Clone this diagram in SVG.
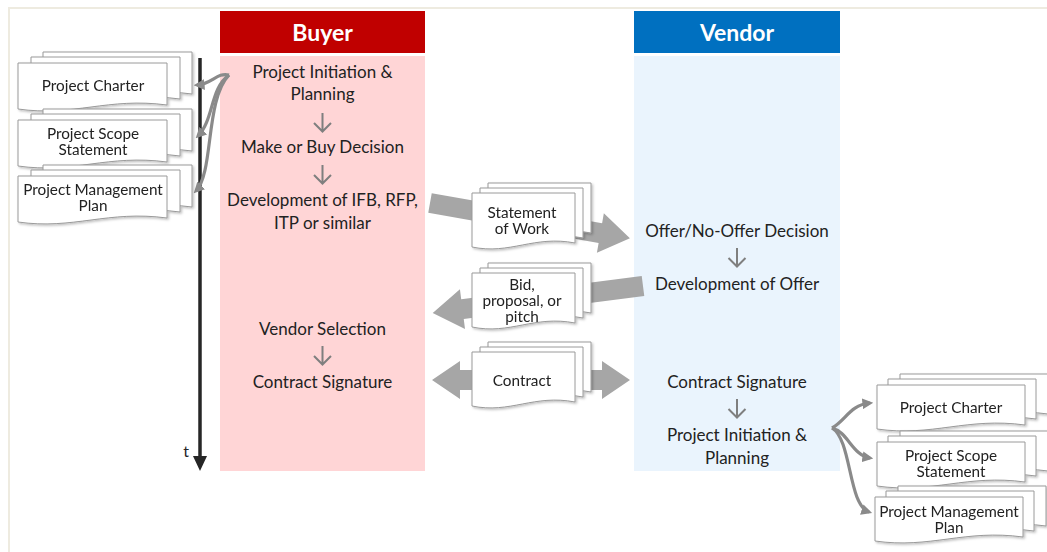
<svg xmlns="http://www.w3.org/2000/svg" width="1047" height="552" viewBox="0 0 1047 552">
<style>
.t{font-family:Lato,"Liberation Sans",sans-serif;font-size:17px;fill:#222;text-anchor:middle}
.d{font-family:Lato,"Liberation Sans",sans-serif;font-size:15.3px;fill:#222;text-anchor:middle}
.h{font-family:Lato,"Liberation Sans",sans-serif;font-size:23px;font-weight:bold;fill:#fff;text-anchor:middle}
.pg{fill:#fff;stroke:#9a9a9a;stroke-width:1}
.sa{fill:none;stroke:#7f7f7f;stroke-width:2}
.ca{fill:none;stroke:#8a8a8a;stroke-width:3.2}
.ba{fill:#a6a6a6}
</style>
<defs>
<marker id="ah" viewBox="0 0 10 10" refX="7" refY="5" markerWidth="3.4" markerHeight="3.4" orient="auto" markerUnits="strokeWidth">
<path d="M0,0 L10,5 L0,10 z" fill="#8a8a8a"/>
</marker>
<filter id="sh" x="-10%" y="-10%" width="130%" height="140%">
<feDropShadow dx="1.5" dy="1.5" stdDeviation="1.2" flood-color="#000" flood-opacity="0.25"/>
</filter>
<path id="pL" d="M0,0 H149 V42 C90,34 55,54 0,46 Z"/>
<path id="pM" d="M0,0 H103 V50 C62,42 38,62 0,54 Z"/>
<path id="pR" d="M0,0 H148 V40 C90,32 55,52 0,44 Z"/>
</defs>
<rect x="9" y="8" width="1050" height="560" fill="#fff" stroke="#eeebe0" stroke-width="2"/>

<g id="buyer-lane">
<rect x="220" y="11" width="205" height="42" fill="#c00000"/>
<text class="h" x="322.5" y="41">Buyer</text>
<rect x="220" y="56" width="205" height="415" fill="#ffd5d6"/>
</g>
<g id="vendor-lane">
<rect x="634" y="11" width="206" height="42" fill="#0070c0"/>
<text class="h" x="737" y="41">Vendor</text>
<rect x="634" y="56" width="206" height="415" fill="#eaf4fd"/>
</g>

<g id="timeline">
<line x1="200" y1="58" x2="200" y2="458" stroke="#262626" stroke-width="3.5"/>
<path d="M193,456 L207,456 L200,471 Z" fill="#262626"/>
<text x="186" y="457" style="font-family:Lato,'Liberation Sans',sans-serif;font-size:16px;fill:#262626;text-anchor:middle">t</text>
</g>

<g id="buyer-steps">
<text class="t" x="322.5" y="78">Project Initiation &amp;</text>
<text class="t" x="322.5" y="100">Planning</text>
<text class="t" x="322.5" y="153">Make or Buy Decision</text>
<text class="t" x="322.5" y="206">Development of IFB, RFP,</text>
<text class="t" x="322.5" y="229">ITP or similar</text>
<text class="t" x="322.5" y="335">Vendor Selection</text>
<text class="t" x="322.5" y="388">Contract Signature</text>
</g>
<g id="vendor-steps">
<text class="t" x="737" y="237">Offer/No-Offer Decision</text>
<text class="t" x="737" y="290">Development of Offer</text>
<text class="t" x="737" y="388">Contract Signature</text>
<text class="t" x="737" y="441">Project Initiation &amp;</text>
<text class="t" x="737" y="464">Planning</text>
</g>

<g id="connectors">
<path class="sa" d="M322.5,113 V131 M314,123 L322.5,131.5 L331,123"/>
<path class="sa" d="M322.5,165 V183 M314,175 L322.5,183.5 L331,175"/>
<path class="sa" d="M322.5,346 V364 M314,356 L322.5,364.5 L331,356"/>
<path class="sa" d="M737,248 V266 M728.5,258 L737,266.5 L745.5,258"/>
<path class="sa" d="M737,399 V417 M728.5,409 L737,417.5 L745.5,409"/>
<path class="ca" d="M229,75 C217,72 212,84 197,85" marker-end="url(#ah)"/>
<path class="ca" d="M229,75 C210,88 214,120 198,136" marker-end="url(#ah)"/>
<path class="ca" d="M229,75 C205,100 214,172 196,191" marker-end="url(#ah)"/>
<path class="ca" d="M832,428 C846,420 850,405 870,403" marker-end="url(#ah)"/>
<path class="ca" d="M832,428 C848,432 852,455 870,458" marker-end="url(#ah)"/>
<path class="ca" d="M832,428 C852,440 848,505 869,512" marker-end="url(#ah)"/>
<polygon class="ba" points="0,-10 173,-10 173,-20 203,0 173,20 173,10 0,10" transform="translate(430,203) rotate(10)"/>
<polygon class="ba" points="0,-10 182,-10 182,-20 212,0 182,20 182,10 0,10" transform="translate(643,286) rotate(172.7)"/>
<polygon class="ba" points="432,380 460,361 460,370 602,370 602,361 630,380 602,399 602,390 460,390 460,399"/>
</g>

<g id="doc-buyer-charter" filter="url(#sh)">
<use href="#pL" class="pg" x="43" y="52"/><use href="#pL" class="pg" x="31" y="57"/><use href="#pL" class="pg" x="18" y="63"/>
<text class="d" x="93" y="91">Project Charter</text>
</g>
<g id="doc-buyer-scope" filter="url(#sh)">
<use href="#pL" class="pg" x="43" y="109"/><use href="#pL" class="pg" x="31" y="114"/><use href="#pL" class="pg" x="18" y="120"/>
<text class="d" x="93" y="139">Project Scope</text>
<text class="d" x="93" y="155">Statement</text>
</g>
<g id="doc-buyer-pmp" filter="url(#sh)">
<use href="#pL" class="pg" x="43" y="165"/><use href="#pL" class="pg" x="31" y="170"/><use href="#pL" class="pg" x="18" y="176"/>
<text class="d" x="93" y="195">Project Management</text>
<text class="d" x="93" y="211">Plan</text>
</g>

<g id="doc-sow" filter="url(#sh)">
<use href="#pM" class="pg" x="488" y="183"/><use href="#pM" class="pg" x="480" y="188"/><use href="#pM" class="pg" x="472" y="193"/>
<text class="d" x="522" y="218">Statement</text>
<text class="d" x="522" y="234">of Work</text>
</g>
<g id="doc-bid" filter="url(#sh)">
<use href="#pM" class="pg" x="488" y="263"/><use href="#pM" class="pg" x="480" y="268"/><use href="#pM" class="pg" x="472" y="273"/>
<text class="d" x="522" y="290">Bid,</text>
<text class="d" x="522" y="306">proposal, or</text>
<text class="d" x="522" y="322">pitch</text>
</g>
<g id="doc-contract" filter="url(#sh)">
<use href="#pM" class="pg" x="488" y="342"/><use href="#pM" class="pg" x="480" y="347"/><use href="#pM" class="pg" x="472" y="352"/>
<text class="d" x="522" y="386">Contract</text>
</g>

<g id="doc-vendor-charter" filter="url(#sh)">
<use href="#pR" class="pg" x="900" y="374"/><use href="#pR" class="pg" x="888" y="379"/><use href="#pR" class="pg" x="877" y="385"/>
<text class="d" x="951" y="413">Project Charter</text>
</g>
<g id="doc-vendor-scope" filter="url(#sh)">
<use href="#pR" class="pg" x="900" y="431"/><use href="#pR" class="pg" x="888" y="436"/><use href="#pR" class="pg" x="877" y="442"/>
<text class="d" x="951" y="461">Project Scope</text>
<text class="d" x="951" y="477">Statement</text>
</g>
<g id="doc-vendor-pmp" filter="url(#sh)">
<use href="#pR" class="pg" x="898" y="486"/><use href="#pR" class="pg" x="886" y="491"/><use href="#pR" class="pg" x="875" y="497"/>
<text class="d" x="949" y="517">Project Management</text>
<text class="d" x="949" y="533">Plan</text>
</g>
</svg>
